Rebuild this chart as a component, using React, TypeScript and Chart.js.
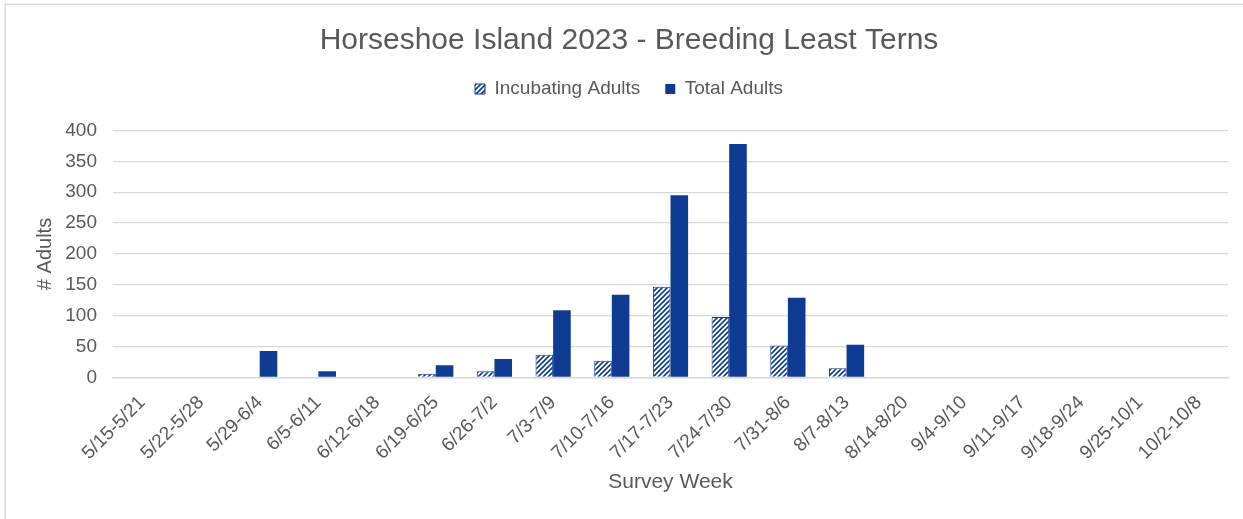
import { useEffect, useRef } from "react";
import { Chart, registerables } from "chart.js";

Chart.register(...registerables);

// Survey weeks (x categories)
const weeks = [
  "5/15-5/21",
  "5/22-5/28",
  "5/29-6/4",
  "6/5-6/11",
  "6/12-6/18",
  "6/19-6/25",
  "6/26-7/2",
  "7/3-7/9",
  "7/10-7/16",
  "7/17-7/23",
  "7/24-7/30",
  "7/31-8/6",
  "8/7-8/13",
  "8/14-8/20",
  "9/4-9/10",
  "9/11-9/17",
  "9/18-9/24",
  "9/25-10/1",
  "10/2-10/8",
];

// Adults counted per week
const incubatingAdults = [0, 0, 0, 0, 0, 6, 10, 37, 27, 147, 98, 52, 15, 0, 0, 0, 0, 0, 0];
const totalAdults = [0, 0, 43, 10, 0, 20, 30, 109, 134, 295, 378, 129, 53, 0, 0, 0, 0, 0, 0];

// Y axis range
const yMin = 0;
const yMax = 400;
const yStep = 50;

const BLUE = "#0e3c92";
const GRID = "#d9d9d9";
const TEXT = "#595959";
const FONT = "'Liberation Sans', Arial, Helvetica, sans-serif";

function makeHatch(ctx: CanvasRenderingContext2D): CanvasPattern | string {
  const size = 5;
  const tile = document.createElement("canvas");
  tile.width = size;
  tile.height = size;
  const g = tile.getContext("2d");
  if (!g) return BLUE;
  g.fillStyle = "#ffffff";
  g.fillRect(0, 0, size, size);
  g.strokeStyle = BLUE;
  g.lineWidth = 1.6;
  g.beginPath();
  g.moveTo(-1, size + 1);
  g.lineTo(size + 1, -1);
  g.moveTo(-1, 1);
  g.lineTo(1, -1);
  g.moveTo(size - 1, size + 1);
  g.lineTo(size + 1, size - 1);
  g.stroke();
  return ctx.createPattern(tile, "repeat") || BLUE;
}

// White background plus the light outer frame
const framePlugin = {
  id: "frame",
  beforeDraw(chart: Chart) {
    const { ctx } = chart;
    ctx.save();
    ctx.fillStyle = "#ffffff";
    ctx.fillRect(0, 0, chart.width, chart.height);
    ctx.strokeStyle = GRID;
    ctx.lineWidth = 1.5;
    ctx.strokeRect(5.25, 4.25, chart.width + 40, chart.height + 40);
    ctx.restore();
  },
};

// Extra room between the legend and the plot area
const legendGapPlugin = {
  id: "legendGap",
  beforeUpdate(chart: any) {
    const legend = chart.legend;
    if (!legend || legend._gapPatched) return;
    const fit = legend.fit;
    legend.fit = function () {
      fit.call(this);
      this.height += 22;
    };
    legend._gapPatched = true;
  },
};

export default function App() {
  const canvasRef = useRef<HTMLCanvasElement | null>(null);

  useEffect(() => {
    document.body.style.margin = "0";
    const canvas = canvasRef.current;
    if (!canvas) return;
    const ctx = canvas.getContext("2d");
    if (!ctx) return;

    const hatch = makeHatch(ctx);
    const tickFont = { family: FONT, size: 19 };

    const chart = new Chart(canvas, {
      type: "bar",
      data: {
        labels: weeks,
        datasets: [
          {
            label: "Incubating Adults",
            data: incubatingAdults,
            backgroundColor: hatch as any,
            borderColor: BLUE,
            borderWidth: 1,
            barPercentage: 1,
            categoryPercentage: 0.6,
          },
          {
            label: "Total Adults",
            data: totalAdults,
            backgroundColor: BLUE,
            borderColor: BLUE,
            borderWidth: 0,
            barPercentage: 1,
            categoryPercentage: 0.6,
          },
        ],
      },
      options: {
        animation: false,
        responsive: false,
        maintainAspectRatio: false,
        layout: { padding: { left: 30, right: 15, top: 0, bottom: 0 } },
        plugins: {
          title: {
            display: true,
            text: "Horseshoe Island 2023 - Breeding Least Terns",
            color: TEXT,
            font: { family: FONT, size: 30, weight: "normal", lineHeight: 0.95 },
            padding: { top: 26, bottom: 0 },
          },
          legend: {
            display: true,
            position: "top",
            labels: {
              color: TEXT,
              font: { family: FONT, size: 19 },
              boxWidth: 10,
              boxHeight: 10,
              padding: 25,
            },
          },
          tooltip: { enabled: false },
        },
        scales: {
          x: {
            grid: { display: false },
            border: { color: GRID, width: 1.5 },
            ticks: {
              color: TEXT,
              font: tickFont,
              maxRotation: 45,
              minRotation: 45,
              autoSkip: false,
              padding: 6,
            },
            title: {
              display: true,
              text: "Survey Week",
              color: TEXT,
              font: { family: FONT, size: 21 },
              padding: { top: 0, bottom: 24 },
            },
            afterFit(scale: any) {
              scale.height = 141.5;
            },
          },
          y: {
            min: yMin,
            max: yMax,
            ticks: {
              stepSize: yStep,
              color: TEXT,
              font: tickFont,
              padding: 16,
            },
            grid: { color: GRID, lineWidth: 1.3, drawTicks: false },
            border: { display: false },
            title: {
              display: true,
              text: "# Adults",
              color: TEXT,
              font: { family: FONT, size: 20 },
              padding: { top: 3, bottom: 0 },
            },
            afterFit(scale: any) {
              scale.width = 83;
            },
          },
        },
      },
      plugins: [framePlugin, legendGapPlugin],
    });

    return () => chart.destroy();
  }, []);

  return (
    <div style={{ width: 1243, height: 519 }}>
      <canvas ref={canvasRef} width={1243} height={519} style={{ display: "block" }} />
    </div>
  );
}
